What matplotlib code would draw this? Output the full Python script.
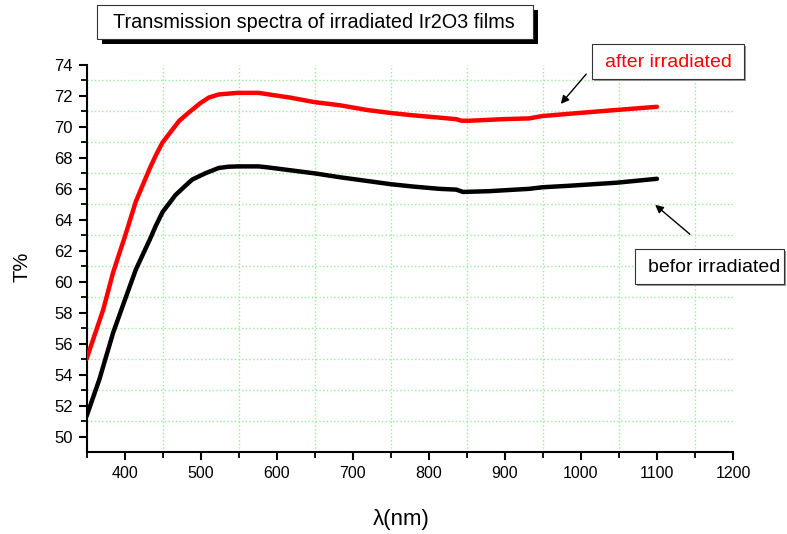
import numpy as np
import matplotlib
matplotlib.use("Agg")
import matplotlib.pyplot as plt
from matplotlib.patches import Rectangle
from matplotlib.ticker import MultipleLocator

W, H = 787, 534

# transmission (%) vs wavelength (nm)
wl_after = [350, 372, 385, 401, 415, 433, 441, 450, 472, 485, 500, 511, 524, 549, 576, 617, 650,
            683, 718, 750, 779, 814, 836, 843, 854, 897, 932, 949, 985, 1048, 1100]
T_after = [55.0, 58.2, 60.6, 63.0, 65.2, 67.3, 68.15, 69.0, 70.4, 70.95, 71.55, 71.9, 72.1, 72.2, 72.2, 71.9, 71.6,
           71.4, 71.1, 70.9, 70.75, 70.6, 70.5, 70.4, 70.4, 70.5, 70.55, 70.7, 70.85, 71.1, 71.3]

wl_before = [350, 367, 385, 401, 415, 433, 441, 450, 467, 480, 489, 506, 524, 537, 549, 576, 586, 650,
             683, 750, 779, 814, 836, 845, 880, 897, 932, 949, 985, 1048, 1100]
T_before = [51.3, 53.7, 56.7, 58.9, 60.8, 62.7, 63.6, 64.5, 65.6, 66.2, 66.6, 67.0, 67.35, 67.43, 67.45, 67.45, 67.4, 67.0,
            66.75, 66.3, 66.15, 66.0, 65.95, 65.8, 65.85, 65.9, 66.0, 66.1, 66.2, 66.4, 66.65]

title = "Transmission spectra of irradiated Ir2O3 films"

plt.rcParams["font.family"] = ["Liberation Sans", "DejaVu Sans"]


def px(x, y):
    # pixel (top-left origin) -> figure fraction
    return x / W, 1 - y / H


def shadow_box(fig, x0, y0, x1, y1, off, shade):
    fx0, fy1 = px(x0, y1)
    fx1, fy0 = px(x1, y0)
    w, h = fx1 - fx0, fy0 - fy1
    fig.add_artist(Rectangle((fx0 + off / W, fy1 - off / H), w, h, transform=fig.transFigure,
                             facecolor=shade, edgecolor="none", zorder=5))
    fig.add_artist(Rectangle((fx0, fy1), w, h, transform=fig.transFigure,
                             facecolor="white", edgecolor="#333333", lw=0.8, zorder=6))


fig = plt.figure(figsize=(W / 100, H / 100), dpi=100)
ax = fig.add_axes([86.5 / W, 1 - 452 / H, (733 - 86.5) / W, (452 - 65) / H])

ax.plot(wl_after, T_after, color="red", lw=3.2, solid_capstyle="round", zorder=3)
ax.plot(wl_before, T_before, color="black", lw=3.2, solid_capstyle="round", zorder=3)

ax.set_xlim(350, 1200)
ax.set_ylim(49, 74)
ax.set_yticks(np.arange(50, 75, 2))
ax.set_xticks(np.arange(400, 1201, 100))
ax.set_xticks(np.arange(350, 1200, 100), minor=True)
ax.set_yticks(np.arange(51, 74, 2), minor=True)
ax.grid(which="minor", color="#99ee99", ls=":", lw=1.0)
ax.grid(which="major", visible=False)
for s in ("top", "right"):
    ax.spines[s].set_visible(False)
for s in ("left", "bottom"):
    ax.spines[s].set_linewidth(1.5)
ax.tick_params(which="major", direction="out", length=6, width=1.5, labelsize=11.5, pad=4)
ax.tick_params(which="minor", direction="out", length=4, width=1.3)
ax.tick_params(axis="y", labelsize=12)

fig.text(22 / W, 1 - 267 / H, "T%", rotation=90, fontsize=14.5, ha="center", va="center")
fig.text(401 / W, 1 - 519 / H, "λ(nm)", fontsize=16, ha="center", va="center")

# title box with heavy drop shadow
shadow_box(fig, 97, 5, 533, 39, 5, "black")
fig.text(*px(314, 22), title, fontsize=14.3, ha="center", va="center", zorder=7)

# curve labels
shadow_box(fig, 592, 44, 744, 79, 2, "#999999")
fig.text(*px(668, 62), "after irradiated", fontsize=14, color="red", ha="center", va="center", zorder=7)
shadow_box(fig, 635, 249, 784, 284, 2, "#999999")
fig.text(*px(714, 267), "befor irradiated", fontsize=14, ha="center", va="center", zorder=7)

ax.annotate("", xy=px(559, 106), xytext=px(588, 72), xycoords="figure fraction",
            textcoords="figure fraction",
            arrowprops=dict(arrowstyle="-|>", color="black", lw=1.0, mutation_scale=12))
ax.annotate("", xy=px(653, 203), xytext=px(692, 236), xycoords="figure fraction",
            textcoords="figure fraction",
            arrowprops=dict(arrowstyle="-|>", color="black", lw=1.0, mutation_scale=12))

fig.savefig("out.png", dpi=100)
